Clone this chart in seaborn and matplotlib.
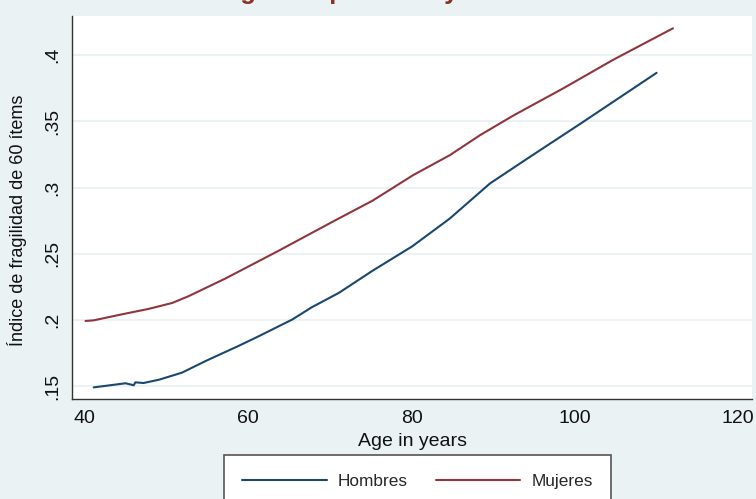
import matplotlib
matplotlib.use("Agg")
import matplotlib.pyplot as plt
import seaborn as sns
import pandas as pd
from matplotlib.lines import Line2D

# ---- data ----
hombres_age = [41.1, 45.0, 46.0, 46.2, 47.2, 49.1, 51.9, 54.8, 58.9, 61.3, 65.4, 67.8,
               71.1, 75.2, 80.1, 84.7, 89.6, 94.5, 100.6, 110.0]
hombres_fi = [0.1492, 0.1523, 0.1508, 0.1530, 0.1525, 0.1550, 0.1603, 0.1691, 0.1807,
              0.1878, 0.2004, 0.2097, 0.2205, 0.2371, 0.2557, 0.2767, 0.3031, 0.3232,
              0.3479, 0.3866]
mujeres_age = [40.1, 41.1, 44.6, 47.8, 50.7, 52.7, 57.2, 63.7, 67.8, 71.1, 75.2, 80.2,
               84.7, 88.4, 92.5, 98.6, 104.7, 112.0]
mujeres_fi = [0.1993, 0.1998, 0.2044, 0.2084, 0.2129, 0.2180, 0.2313, 0.2522, 0.2658,
              0.2767, 0.2900, 0.3094, 0.3245, 0.3396, 0.3545, 0.3750, 0.3965, 0.4202]
series_names = ["Hombres", "Mujeres"]
x_ticks = [40, 60, 80, 100, 120]
y_ticks = [0.15, 0.2, 0.25, 0.3, 0.35, 0.4]
y_tick_labels = [".15", ".2", ".25", ".3", ".35", ".4"]
title_text = "Índice de fragilidad por edad y sexo"
x_label = "Age in years"
y_label = "Índice de fragilidad de 60 ítems"

colors = {"Hombres": "#1A476F", "Mujeres": "#90353B"}
BG = "#EAF2F3"

df = pd.concat([
    pd.DataFrame({"age": hombres_age, "fi": hombres_fi, "sexo": series_names[0]}),
    pd.DataFrame({"age": mujeres_age, "fi": mujeres_fi, "sexo": series_names[1]}),
], ignore_index=True)

sns.set_style("white")
plt.rcParams["font.family"] = ["Liberation Sans", "DejaVu Sans"]

fig = plt.figure(figsize=(7.56, 4.99), dpi=100, facecolor=BG)
ax = fig.add_axes([72.3 / 756, 1 - 399.3 / 499, (751.7 - 72.3) / 756, (399.3 - 16) / 499])
ax.set_facecolor("white")

sns.lineplot(data=df, x="age", y="fi", hue="sexo", palette=colors, estimator=None,
             sort=False, linewidth=1.5, legend=False, ax=ax, zorder=3)

ax.set_xlim(38.48, 121.64)
ax.set_ylim(0.1402, 0.4295)
ax.set_xticks(x_ticks)
ax.set_xticklabels([str(t) for t in x_ticks])
ax.set_yticks(y_ticks)
ax.set_yticklabels(y_tick_labels)

ax.grid(axis="y", color=BG, linewidth=1.5, zorder=0)
ax.grid(axis="x", visible=False)
for s in ["top", "right"]:
    ax.spines[s].set_visible(False)
for s in ["left", "bottom"]:
    ax.spines[s].set_color("#333333")
    ax.spines[s].set_linewidth(1.0)

ax.tick_params(axis="both", direction="out", length=5.8, width=0.8, color="#777777",
               labelsize=14, labelcolor="#111111")
ax.tick_params(axis="x", pad=2)
ax.tick_params(axis="y", pad=2, labelrotation=90)
for lab in ax.get_yticklabels():
    lab.set_va("center")

ax.set_xlabel(x_label, fontsize=14, color="#111111", va="center")
ax.xaxis.set_label_coords(0.5, (399.3 - 441) / 383.3)
ax.set_ylabel(y_label, fontsize=13, color="#111111", va="center")
ax.yaxis.set_label_coords((16.7 - 72.3) / 679.4, (399.3 - 220) / 383.3)

# legend
handles = [Line2D([], [], color=colors[n], linewidth=1.5) for n in series_names]
leg = fig.legend(handles, series_names, loc="center", ncol=2,
                 bbox_to_anchor=(417.5 / 756, 1 - 481 / 499), fontsize=12.4,
                 frameon=True, fancybox=False, handlelength=4.9, handletextpad=0.65,
                 columnspacing=1.6, borderpad=1.05)
leg.get_frame().set_edgecolor("#555555")
leg.get_frame().set_linewidth(1.2)
leg.get_frame().set_facecolor("white")
leg.get_frame().set_alpha(1)

# title (mostly cropped at the top of the image, as in the reference)
fig.text(90 / 756, 1 + 0.5 / 499, title_text, fontsize=18.4, fontweight="bold",
         color="#8A3324", ha="left", va="baseline")

fig.savefig("out.png", dpi=100, facecolor=BG)
